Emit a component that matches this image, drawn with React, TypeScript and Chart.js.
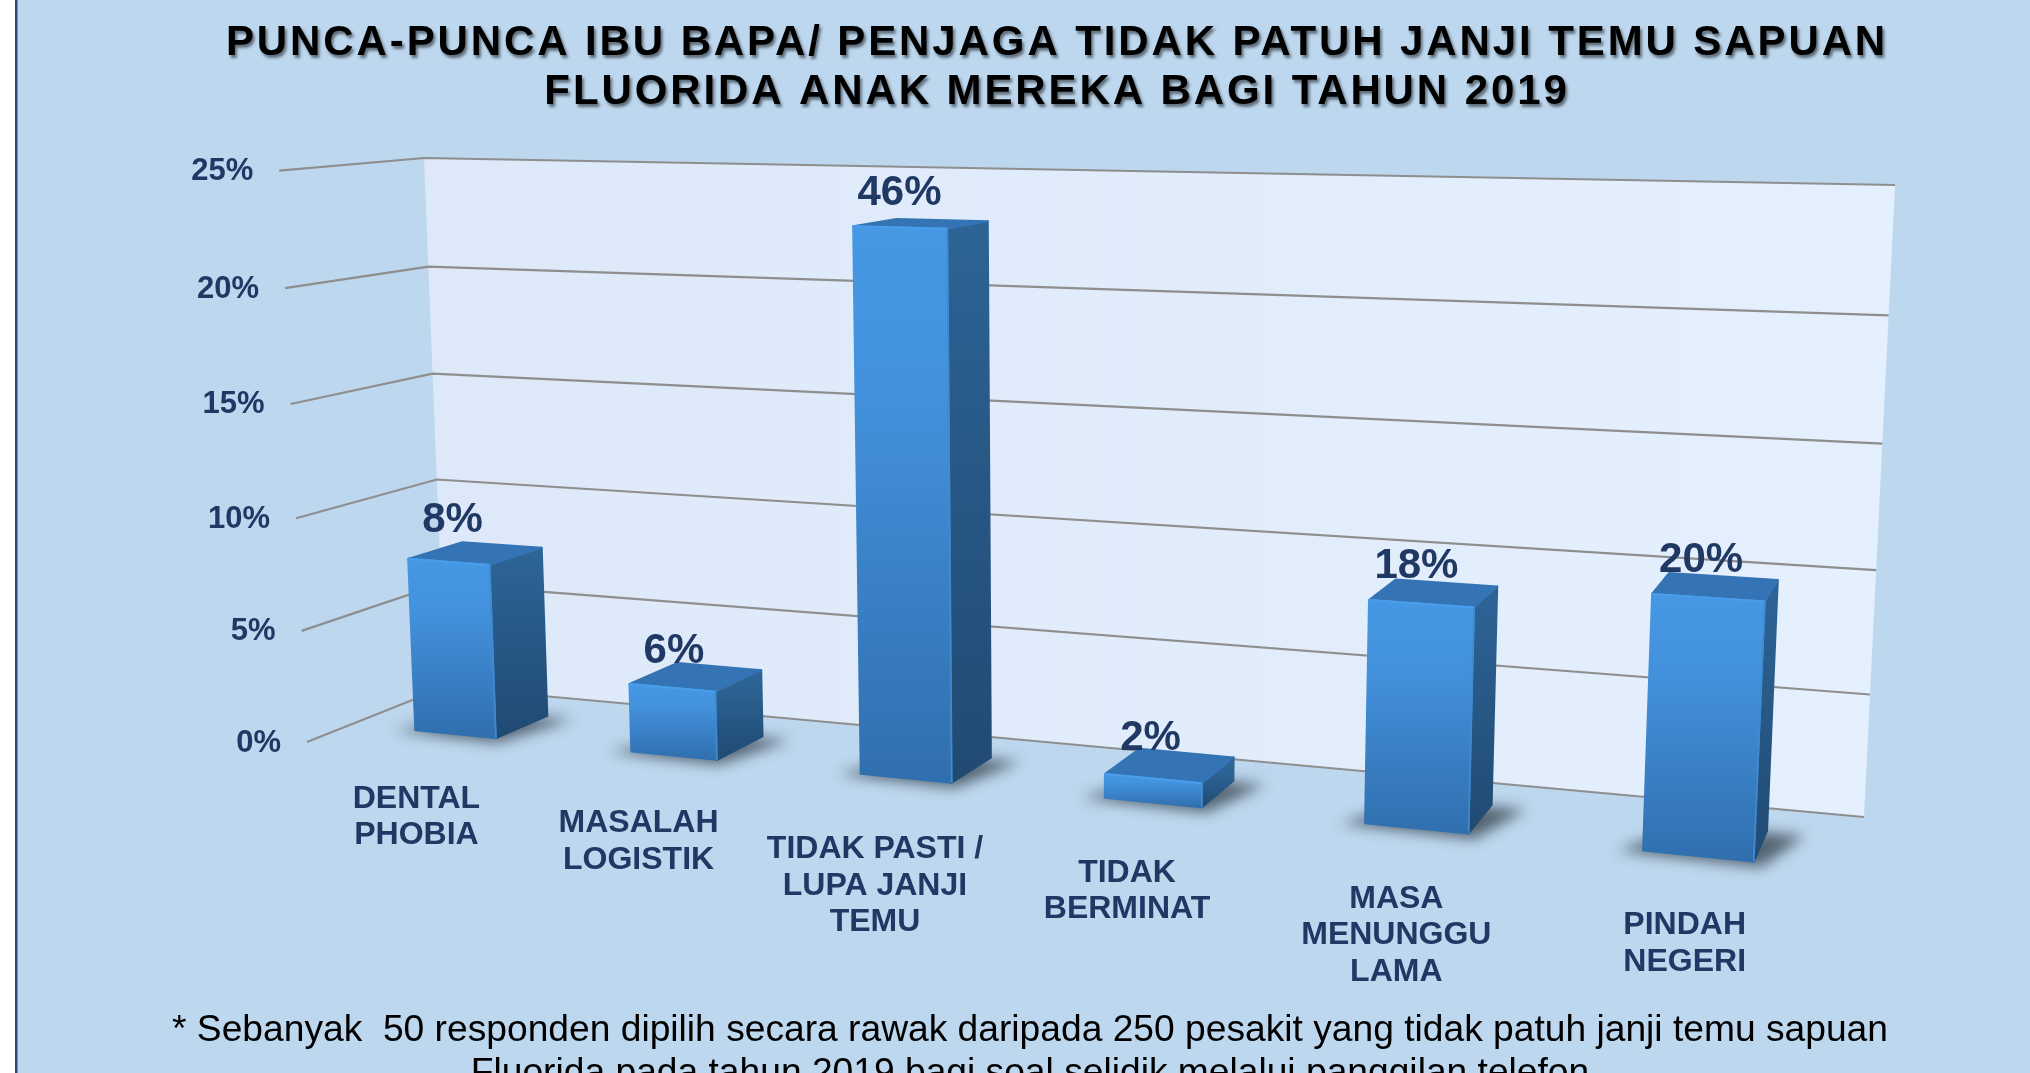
import React, { useEffect, useRef } from "react";
import { Chart, registerables } from "chart.js";

Chart.register(...registerables);

const categories = [
  ["DENTAL", "PHOBIA"],
  ["MASALAH", "LOGISTIK"],
  ["TIDAK PASTI /", "LUPA JANJI", "TEMU"],
  ["TIDAK", "BERMINAT"],
  ["MASA", "MENUNGGU", "LAMA"],
  ["PINDAH", "NEGERI"],
];
const barValues = [7.8, 3, 23, 1, 9, 10];
const percentLabels = ["8%", "6%", "46%", "2%", "18%", "20%"];
const titleLines = [
  "PUNCA-PUNCA IBU BAPA/ PENJAGA TIDAK PATUH JANJI TEMU SAPUAN",
  "FLUORIDA ANAK MEREKA BAGI TAHUN 2019",
];
const noteLines = [
  "* Sebanyak  50 responden dipilih secara rawak daripada 250 pesakit yang tidak patuh janji temu sapuan",
  "Fluorida pada tahun 2019 bagi soal selidik melalui panggilan telefon",
];

const W = 2030;
const H = 1073;
const NAVY = "#1F3864";
const FONT = '"Liberation Sans", Arial, sans-serif';

// Corners of the perspective box the library's scale fractions are projected on.
const WALL_BL: [number, number] = [445, 687];
const WALL_BR: [number, number] = [1864, 817];
const WALL_TR: [number, number] = [1895, 185];
const WALL_TL: [number, number] = [424, 158];
const FRONT_BL: [number, number] = [307, 742];
const DEPTH_S = 0.925;
const BAR_D0 = 0.3;
const BAR_D1 = 0.69;
const LABEL_NUDGE_Y = [0, 2, 4, 2, 1, -2];
const VALUE_NUDGE_Y = [-4, 1, 3, -3, 0, 0];

function makeProjector() {
  const [x0, y0] = WALL_BL;
  const [x1, y1] = WALL_BR;
  const [x2, y2] = WALL_TR;
  const [x3, y3] = WALL_TL;
  const dx1 = x1 - x2, dx2 = x3 - x2, sx = x0 - x1 + x2 - x3;
  const dy1 = y1 - y2, dy2 = y3 - y2, sy = y0 - y1 + y2 - y3;
  const det = dx1 * dy2 - dx2 * dy1;
  const g = (sx * dy2 - dx2 * sy) / det;
  const h = (dx1 * sy - sx * dy1) / det;
  const hu = [x1 - x0 + g * x1, y1 - y0 + g * y1, g];
  const hv = [x3 - x0 + h * x3, y3 - y0 + h * y3, h];
  const o = [x0, y0, 1];
  const hd = [DEPTH_S * FRONT_BL[0] - x0, DEPTH_S * FRONT_BL[1] - y0, DEPTH_S - 1];
  return (u: number, d: number, v: number): [number, number] => {
    const X = u * hu[0] + d * hd[0] + v * hv[0] + o[0];
    const Y = u * hu[1] + d * hd[1] + v * hv[1] + o[1];
    const Z = u * hu[2] + d * hd[2] + v * hv[2] + o[2];
    return [X / Z, Y / Z];
  };
}
const project = makeProjector();
const frontU = (u: number) => u - 0.001 + 0.0015 * u;

function poly(ctx: CanvasRenderingContext2D, pts: [number, number][]) {
  ctx.beginPath();
  pts.forEach((p, i) => (i ? ctx.lineTo(p[0], p[1]) : ctx.moveTo(p[0], p[1])));
  ctx.closePath();
}

function seg(ctx: CanvasRenderingContext2D, a: [number, number], b: [number, number], color: string, w: number) {
  ctx.strokeStyle = color;
  ctx.lineWidth = w;
  ctx.beginPath();
  ctx.moveTo(a[0], a[1]);
  ctx.lineTo(b[0], b[1]);
  ctx.stroke();
}

function drawBackground(ctx: CanvasRenderingContext2D) {
  ctx.fillStyle = "#FFFFFF";
  ctx.fillRect(0, 0, W, H);
  ctx.fillStyle = "#BDD7EE";
  ctx.fillRect(16, 0, W - 16, H);
  ctx.fillStyle = "#2F4A7A";
  ctx.fillRect(15, 0, 2.5, H);
}

function drawWallAndGrid(ctx: CanvasRenderingContext2D, chart: any) {
  const area = chart.chartArea;
  const yScale = chart.scales.y;
  const wall = ctx.createLinearGradient(WALL_TL[0], 0, WALL_TR[0], 0);
  wall.addColorStop(0, "#DDE9F8");
  wall.addColorStop(1, "#E4F0FE");
  poly(ctx, [project(0, 0, 0), project(1, 0, 0), project(1, 0, 1), project(0, 0, 1)]);
  ctx.fillStyle = wall;
  ctx.fill();

  yScale.ticks.forEach((t: any) => {
    const v = (area.bottom - yScale.getPixelForValue(t.value)) / area.height;
    const front = project(0, 1, v);
    const corner = project(0, 0, v);
    const right = project(1, 0, v);
    ctx.lineJoin = "miter";
    ctx.strokeStyle = "#8E8E8E";
    ctx.lineWidth = 2.2;
    ctx.beginPath();
    ctx.moveTo(front[0], front[1]);
    ctx.lineTo(corner[0], corner[1]);
    ctx.lineTo(right[0], right[1]);
    ctx.stroke();
    ctx.fillStyle = NAVY;
    ctx.font = `bold 31px ${FONT}`;
    ctx.textAlign = "right";
    ctx.textBaseline = "middle";
    ctx.fillText(t.label, front[0] - 26, front[1] + 1);
  });
}

function drawBar(ctx: CanvasRenderingContext2D, chart: any, el: any) {
  const area = chart.chartArea;
  const u0 = (el.x - el.width / 2 - area.left) / area.width;
  const u1 = (el.x + el.width / 2 - area.left) / area.width;
  const v = (area.bottom - el.y) / area.height;
  const v0 = (area.bottom - el.base) / area.height;
  const d0 = BAR_D0, d1 = BAR_D1;

  const fbl = project(frontU(u0), d1, v0), fbr = project(frontU(u1), d1, v0);
  const ftl = project(frontU(u0), d1, v), ftr = project(frontU(u1), d1, v);
  const bbr = project(u1, d0, v0), btr = project(u1, d0, v), btl = project(u0, d0, v);

  ctx.save();
  ctx.filter = "blur(7px)";
  ctx.fillStyle = "rgba(45,55,65,0.72)";
  poly(ctx, [
    project(u0 - 0.014, d1 + 0.03, v0),
    project(u1 + 0.006, d1 + 0.06, v0),
    project(u1 + 0.022, d0 + 0.02, v0),
    project(u0 + 0.02, d0 + 0.02, v0),
  ]);
  ctx.fill();
  ctx.restore();

  ctx.lineJoin = "round";
  const topY = Math.min(ftl[1], ftr[1]);
  const botY = Math.max(fbl[1], fbr[1]);

  const side = ctx.createLinearGradient(0, topY, 0, botY);
  side.addColorStop(0, "#2D6395");
  side.addColorStop(1, "#204A72");
  poly(ctx, [ftr, btr, bbr, fbr]);
  ctx.fillStyle = side;
  ctx.fill();
  ctx.strokeStyle = side;
  ctx.lineWidth = 2;
  ctx.stroke();

  poly(ctx, [ftl, ftr, btr, btl]);
  ctx.fillStyle = "#3474B4";
  ctx.fill();
  ctx.strokeStyle = "#3474B4";
  ctx.stroke();

  const front = ctx.createLinearGradient(0, topY, 0, botY);
  front.addColorStop(0, "#4698E4");
  front.addColorStop(0.3, "#4391DC");
  front.addColorStop(1, "#306FAE");
  poly(ctx, [ftl, ftr, fbr, fbl]);
  ctx.fillStyle = front;
  ctx.fill();
  ctx.strokeStyle = front;
  ctx.stroke();

  seg(ctx, ftl, ftr, "#4A9DEA", 2);
  seg(ctx, ftr, fbr, "#3F8BD2", 1.6);
}

function drawBarTexts(ctx: CanvasRenderingContext2D, chart: any, elements: any[]) {
  const area = chart.chartArea;
  elements.forEach((el, i) => {
    const u = (el.x - area.left) / area.width;
    const v = (area.bottom - el.y) / area.height;
    const top = project(frontU(u), BAR_D1, v);
    ctx.fillStyle = NAVY;
    ctx.font = `bold 42px ${FONT}`;
    ctx.textAlign = "center";
    ctx.textBaseline = "middle";
    ctx.fillText(percentLabels[i], top[0] + 5 - 13 * u, top[1] - 37 + VALUE_NUDGE_Y[i]);

    const anchor = project(u, 1, 0);
    const lines = chart.data.labels[i] as string[];
    ctx.font = `bold 32px ${FONT}`;
    lines.forEach((line, k) => {
      ctx.fillText(line, anchor[0] + 3.3 - 2.7 * u, anchor[1] + 46 + LABEL_NUDGE_Y[i] + k * 36.5);
    });
  });
}

function drawHeadings(ctx: CanvasRenderingContext2D) {
  ctx.save();
  ctx.textAlign = "center";
  ctx.textBaseline = "middle";
  ctx.fillStyle = "#000000";
  ctx.font = `bold 42px ${FONT}`;
  (ctx as any).letterSpacing = "2.9px";
  ctx.shadowColor = "rgba(0,0,0,0.5)";
  ctx.shadowOffsetX = 2;
  ctx.shadowOffsetY = 3;
  ctx.shadowBlur = 3;
  ctx.fillText(titleLines[0], 1057, 43.5);
  ctx.fillText(titleLines[1], 1057, 92.5);
  ctx.restore();

  ctx.save();
  ctx.textAlign = "center";
  ctx.textBaseline = "middle";
  ctx.fillStyle = "#000000";
  ctx.font = `37.2px ${FONT}`;
  ctx.fillText(noteLines[0], 1030, 1031);
  ctx.fillText(noteLines[1], 1030, 1074);
  ctx.restore();
}

const scenePlugin = {
  id: "perspectiveScene",
  beforeDatasetDraw(chart: any, args: any) {
    const ctx: CanvasRenderingContext2D = chart.ctx;
    const elements = args.meta.data;
    ctx.save();
    drawBackground(ctx);
    drawWallAndGrid(ctx, chart);
    elements.forEach((el: any) => drawBar(ctx, chart, el));
    drawBarTexts(ctx, chart, elements);
    drawHeadings(ctx);
    ctx.restore();
    return false;
  },
};

export default function App() {
  const ref = useRef<HTMLCanvasElement | null>(null);
  useEffect(() => {
    document.body.style.margin = "0";
    const chart = new Chart(ref.current as HTMLCanvasElement, {
      type: "bar",
      data: {
        labels: categories as any,
        datasets: [
          {
            label: "Punca",
            data: barValues,
            backgroundColor: "#4391DC",
            categoryPercentage: 1,
            barPercentage: 0.38,
          },
        ],
      },
      options: {
        animation: false,
        responsive: false,
        devicePixelRatio: 1,
        layout: { padding: 0 },
        plugins: { legend: { display: false }, tooltip: { enabled: false }, title: { display: false } },
        scales: {
          x: { type: "category", display: false },
          y: {
            type: "linear",
            display: false,
            min: 0,
            max: 25,
            ticks: { stepSize: 5, callback: (v: any) => `${v}%` },
          },
        },
      },
      plugins: [scenePlugin],
    } as any);
    return () => chart.destroy();
  }, []);
  return (
    <div style={{ position: "fixed", left: 0, top: 0, width: W, height: H, overflow: "hidden" }}>
      <canvas ref={ref} width={W} height={H} style={{ display: "block" }} />
    </div>
  );
}
